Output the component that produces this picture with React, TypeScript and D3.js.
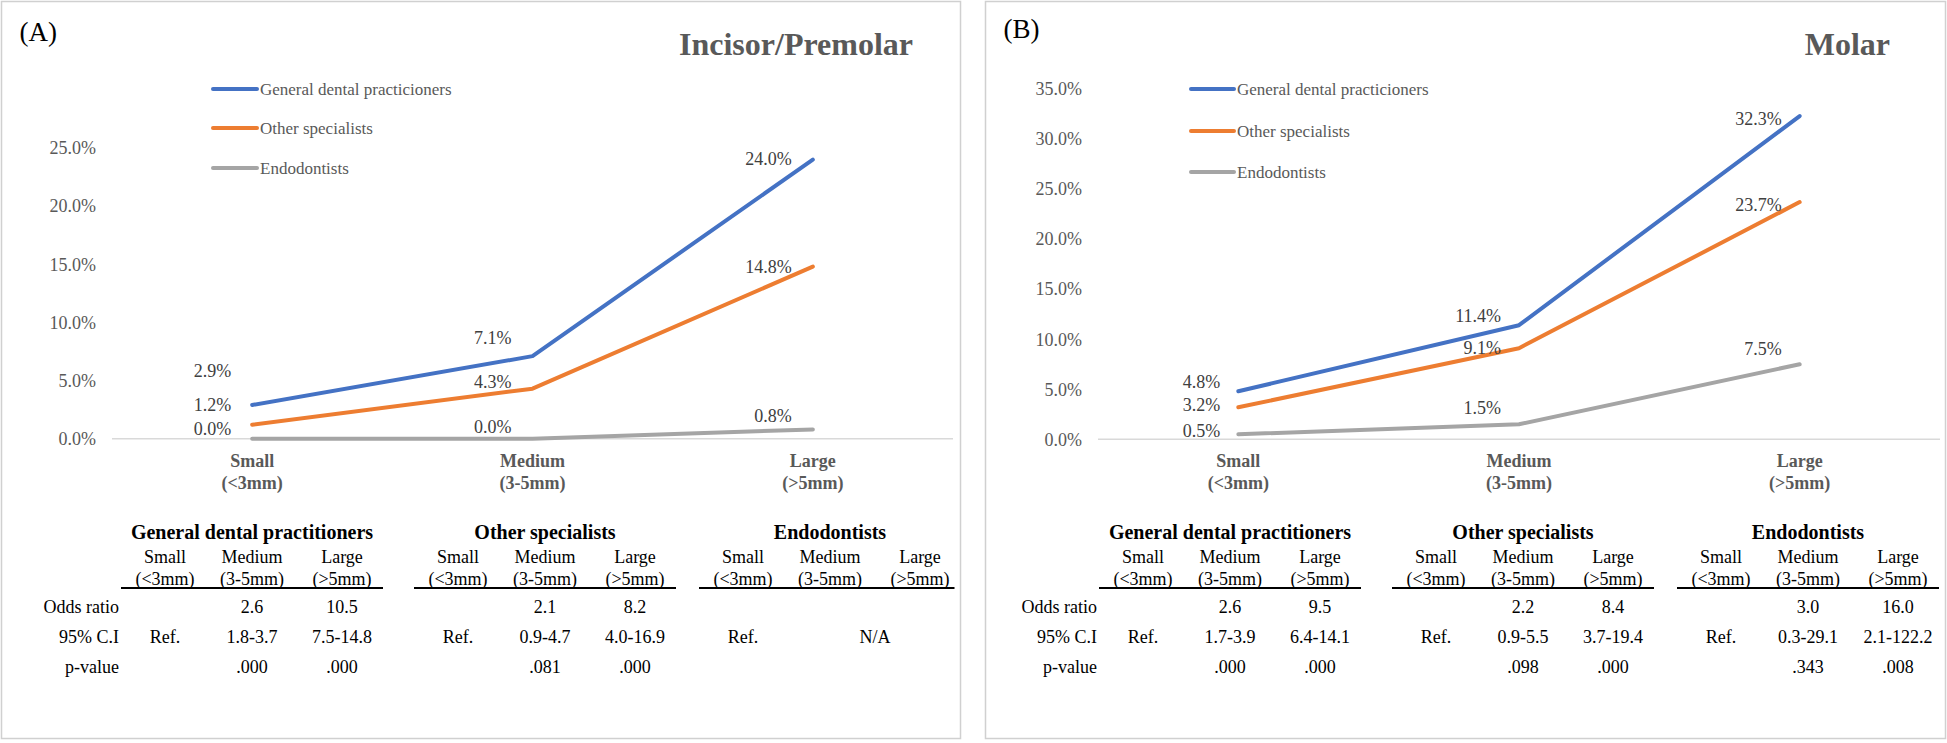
import React from "react";
import * as d3 from "d3";

// ---------- Data ----------
const categories = ["Small", "Medium", "Large"];
const categorySub = ["(<3mm)", "(3-5mm)", "(>5mm)"];
const legendNames = ["General dental practicioners", "Other specialists", "Endodontists"];
const tableGroups = ["General dental practitioners", "Other specialists", "Endodontists"];
const rowLabels = ["Odds ratio", "95% C.I", "p-value"];

const incisorGDP = [2.9, 7.1, 24.0];
const incisorOS = [1.2, 4.3, 14.8];
const incisorEndo = [0.0, 0.0, 0.8];
const incisorTicks = [0, 5, 10, 15, 20, 25];

const molarGDP = [4.8, 11.4, 32.3];
const molarOS = [3.2, 9.1, 23.7];
const molarEndo = [0.5, 1.5, 7.5];
const molarTicks = [0, 5, 10, 15, 20, 25, 30, 35];

// table cells: [Small, Medium, Large]; null in Large = Medium value spans both
const incisorOdds = [["", "2.6", "10.5"], ["", "2.1", "8.2"], ["", "", ""]];
const incisorCI = [["Ref.", "1.8-3.7", "7.5-14.8"], ["Ref.", "0.9-4.7", "4.0-16.9"], ["Ref.", "N/A", null]];
const incisorP = [["", ".000", ".000"], ["", ".081", ".000"], ["", "", ""]];

const molarOdds = [["", "2.6", "9.5"], ["", "2.2", "8.4"], ["", "3.0", "16.0"]];
const molarCI = [["Ref.", "1.7-3.9", "6.4-14.1"], ["Ref.", "0.9-5.5", "3.7-19.4"], ["Ref.", "0.3-29.1", "2.1-122.2"]];
const molarP = [["", ".000", ".000"], ["", ".098", ".000"], ["", ".343", ".008"]];

// ---------- Styles / layout ----------
const COLORS = ["#4472C4", "#ED7D31", "#A5A5A5"];
const FONT = "'Liberation Serif', 'Times New Roman', serif";
const GRAY = "#595959";

type Panel = {
  tag: string;
  title: string;
  left: number;
  right: number;
  tagBaseline: number;
  titleRight: number;
  axisX: [number, number];
  yRange: [number, number];
  yMax: number;
  ticks: number[];
  series: number[][];
  labelDx: number;
  labelDy: number[][];
  legendX: [number, number];
  legendY: number[];
  tableLeft: number;
  odds: (string | null)[][];
  ci: (string | null)[][];
  p: (string | null)[][];
};

const panels: Panel[] = [
  {
    tag: "(A)",
    title: "Incisor/Premolar",
    left: 1.5,
    right: 960.5,
    tagBaseline: 41,
    titleRight: 913,
    axisX: [112, 953],
    yRange: [438.7, 148],
    yMax: 25,
    ticks: incisorTicks,
    series: [incisorGDP, incisorOS, incisorEndo],
    labelDx: -21,
    labelDy: [[-34, -18, -1], [-20, -7, 0], [-10, -12, -14]],
    legendX: [213, 257],
    legendY: [89, 128, 168],
    tableLeft: 0,
    odds: incisorOdds,
    ci: incisorCI,
    p: incisorP,
  },
  {
    tag: "(B)",
    title: "Molar",
    left: 985.5,
    right: 1945.5,
    tagBaseline: 38,
    titleRight: 1890,
    axisX: [1098, 1940],
    yRange: [439.3, 89],
    yMax: 35,
    ticks: molarTicks,
    series: [molarGDP, molarOS, molarEndo],
    labelDx: -18,
    labelDy: [[-10, -10, 3], [-3, -1, 3], [-4, -17, -16]],
    legendX: [1191, 1234],
    legendY: [89, 131, 172],
    tableLeft: 978,
    odds: molarOdds,
    ci: molarCI,
    p: molarP,
  },
];

const groupCenters = [252, 545, 830];
const colOffsets = [-87, 0, 90];
const rowYs = [607, 637, 667];

function PanelView({ p }: { p: Panel }) {
  const x = d3.scaleBand<string>().domain(categories).range(p.axisX).padding(0);
  const cx = (c: string) => (x(c) as number) + x.bandwidth() / 2;
  const y = d3.scaleLinear().domain([0, p.yMax]).range(p.yRange);
  const line = d3
    .line<number>()
    .x((_, i) => cx(categories[i]))
    .y((d) => y(d));
  const tableRows = [p.odds, p.ci, p.p];

  return (
    <g fontFamily={FONT}>
      <rect x={p.left} y={1.5} width={p.right - p.left} height={737} fill="#fff" stroke="#D0D0D0" strokeWidth={1.5} />
      <text x={p.left + 18} y={p.tagBaseline} fontSize={27} fill="#000">{p.tag}</text>
      <text x={p.titleRight} y={55} fontSize={32} fontWeight="bold" fill={GRAY} textAnchor="end">{p.title}</text>

      {/* y tick labels */}
      {p.ticks.map((t) => (
        <text key={t} x={p.axisX[0] - 16} y={y(t)} dy="0.35em" fontSize={18} fill={GRAY} textAnchor="end">
          {t.toFixed(1) + "%"}
        </text>
      ))}
      {/* x axis */}
      <line x1={p.axisX[0]} x2={p.axisX[1]} y1={y(0)} y2={y(0)} stroke="#D9D9D9" strokeWidth={1.5} />
      {categories.map((c, i) => (
        <g key={c}>
          <text x={cx(c)} y={461} dy="0.35em" fontSize={18} fontWeight="bold" fill={GRAY} textAnchor="middle">{c}</text>
          <text x={cx(c)} y={483} dy="0.35em" fontSize={18} fontWeight="bold" fill={GRAY} textAnchor="middle">{categorySub[i]}</text>
        </g>
      ))}

      {/* lines */}
      {p.series.slice().reverse().map((s, ri) => {
        const si = p.series.length - 1 - ri;
        return (
          <path key={si} d={line(s) || ""} fill="none" stroke={COLORS[si]} strokeWidth={4} strokeLinecap="round" strokeLinejoin="round" />
        );
      })}
      {/* data labels */}
      {p.series.map((s, si) =>
        s.map((v, i) => (
          <text
            key={si + "-" + i}
            x={cx(categories[i]) + p.labelDx}
            y={y(v) + p.labelDy[si][i]}
            dy="0.35em"
            fontSize={18}
            fill="#404040"
            textAnchor="end"
          >
            {v.toFixed(1) + "%"}
          </text>
        ))
      )}

      {/* legend */}
      {legendNames.map((n, i) => (
        <g key={n}>
          <line x1={p.legendX[0]} x2={p.legendX[1]} y1={p.legendY[i]} y2={p.legendY[i]} stroke={COLORS[i]} strokeWidth={4} strokeLinecap="round" />
          <text x={p.legendX[1] + 3} y={p.legendY[i]} dy="0.35em" fontSize={17} fill={GRAY}>{n}</text>
        </g>
      ))}

      {/* table */}
      <g transform={`translate(${p.tableLeft},0)`}>
        {rowLabels.map((r, ri) => (
          <text key={r} x={119} y={rowYs[ri]} dy="0.35em" fontSize={18} textAnchor="end" fill="#000">{r}</text>
        ))}
        {tableGroups.map((g, gi) => {
          const gc = groupCenters[gi];
          const x1 = gc - 131;
          const x2 = Math.min(gc + 131, p.right - p.tableLeft - 6);
          return (
            <g key={g}>
              <text x={gc} y={532} dy="0.35em" fontSize={20} fontWeight="bold" textAnchor="middle" fill="#000">{g}</text>
              {categories.map((c, ci) => (
                <g key={c}>
                  <text x={gc + colOffsets[ci]} y={557} dy="0.35em" fontSize={18} textAnchor="middle" fill="#000">{c}</text>
                  <text x={gc + colOffsets[ci]} y={579} dy="0.35em" fontSize={18} textAnchor="middle" fill="#000">{categorySub[ci]}</text>
                </g>
              ))}
              <line x1={x1} x2={x2} y1={588} y2={588} stroke="#000" strokeWidth={2} />
              {tableRows.map((rows, ri) =>
                rows[gi].map((val, ci) => {
                  if (val === null || val === "") return null;
                  const spans = ci === 1 && rows[gi][2] === null;
                  const xx = spans ? gc + (colOffsets[1] + colOffsets[2]) / 2 : gc + colOffsets[ci];
                  return (
                    <text key={ri + "-" + ci} x={xx} y={rowYs[ri]} dy="0.35em" fontSize={18} textAnchor="middle" fill="#000">{val}</text>
                  );
                })
              )}
            </g>
          );
        })}
      </g>
    </g>
  );
}

export default function App() {
  return (
    <svg
      width={1947}
      height={743}
      style={{ position: "absolute", left: 0, top: 0, background: "#fff" }}
      xmlns="http://www.w3.org/2000/svg"
    >
      <rect x={0} y={0} width={1947} height={743} fill="#fff" />
      {panels.map((p) => (
        <PanelView key={p.tag} p={p} />
      ))}
    </svg>
  );
}
